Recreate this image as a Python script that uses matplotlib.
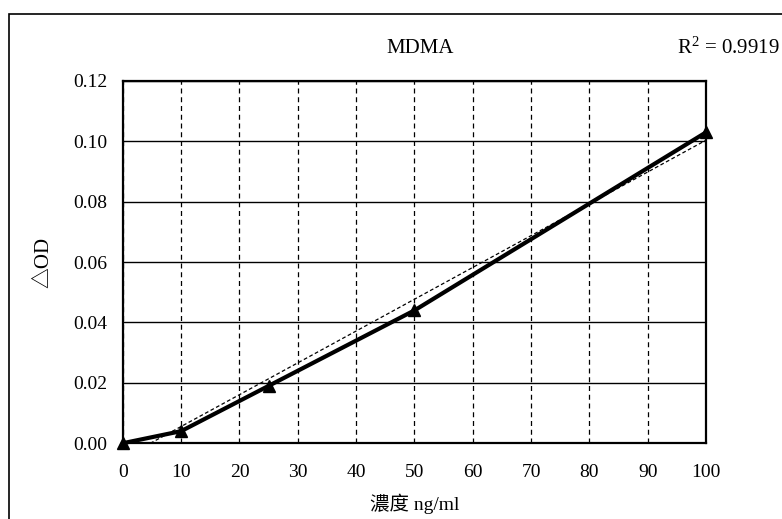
import numpy as np
import matplotlib
matplotlib.use("Agg")
import matplotlib.pyplot as plt
from matplotlib.patches import Rectangle

# data
conc = [0, 10, 25, 50, 100]
dod = [0.000, 0.004, 0.019, 0.044, 0.103]
xticks = [0, 10, 20, 30, 40, 50, 60, 70, 80, 90, 100]
yticks = [0.00, 0.02, 0.04, 0.06, 0.08, 0.10, 0.12]
r2_text = "R$^{2}$ = 0.9919"

serif = ["Liberation Serif", "Noto Sans CJK TC", "DejaVu Serif"]
plt.rcParams["font.family"] = serif
plt.rcParams["mathtext.fontset"] = "custom"
plt.rcParams["mathtext.rm"] = "Liberation Serif"
plt.rcParams["mathtext.it"] = "Liberation Serif"

fig = plt.figure(figsize=(7.82, 5.19), dpi=100)
ax = fig.add_axes([0.157, 0.146, 0.746, 0.698])

# outer frame of the scanned chart
fig.patches.append(Rectangle((9 / 782, -0.05), 1.1, 1 - 14 / 519 + 0.05,
                             transform=fig.transFigure, fill=False,
                             edgecolor="black", linewidth=1.2))

# linear trendline (least squares on the points)
k, b = np.polyfit(conc, dod, 1)
xs = np.array([0, 100])
ax.plot(xs, k * xs + b, color="black", linestyle=(0, (3, 2)), linewidth=0.9, zorder=3)

ax.plot(conc, dod, color="black", linewidth=3.0, marker="^", markersize=9,
        solid_capstyle="round", zorder=4, clip_on=False)

ax.set_xlim(0, 100)
ax.set_ylim(0, 0.12)
ax.set_xticks(xticks)
ax.set_yticks(yticks)
ax.set_yticklabels([f"{v:.2f}" for v in yticks])
ax.tick_params(length=0, labelsize=14)
ax.tick_params(axis="y", pad=11)
ax.tick_params(axis="x", pad=15)

ax.grid(axis="y", color="black", linewidth=1.0, linestyle="-")
ax.grid(axis="x", color="black", linewidth=0.9, linestyle=(0, (4, 3)))
for s in ax.spines.values():
    s.set_linewidth(1.6)

ax.set_xlabel("濃度 ng/ml", fontsize=14, labelpad=9)
ax.set_ylabel("△OD", fontsize=15, labelpad=14)

fig.text(0.537, 0.907, "MDMA", fontsize=15, ha="center", va="center")
fig.text(0.997, 0.907, r2_text, fontsize=15, ha="right", va="center")

fig.savefig("out.png", dpi=100)
